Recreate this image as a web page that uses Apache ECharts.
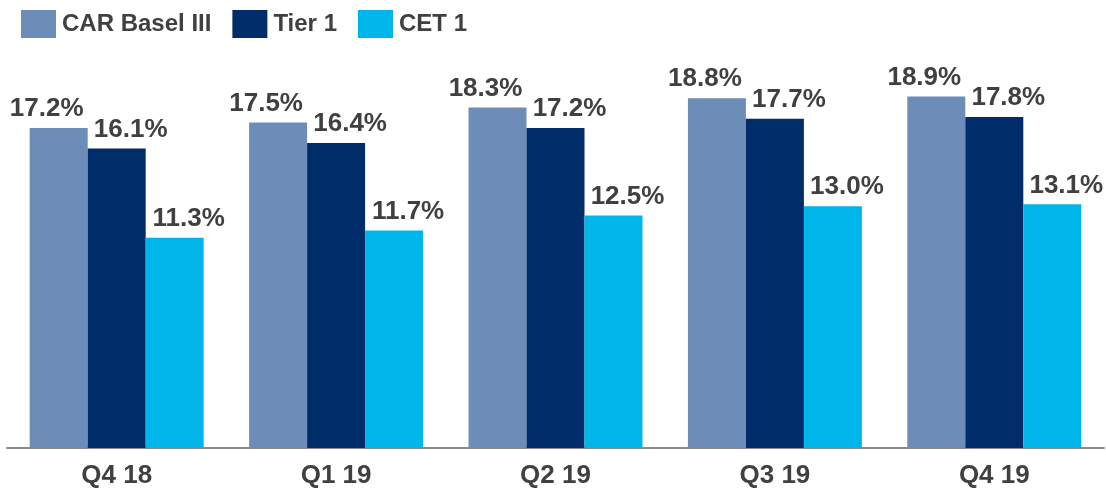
<!DOCTYPE html>
<html>
<head>
<meta charset="utf-8">
<script src="https://cdn.jsdelivr.net/npm/echarts@6/dist/echarts.min.js"></script>
<style>
  html, body { margin: 0; padding: 0; background: #fff; }
  #chart { width: 1106px; height: 491px; }
</style>
</head>
<body>
<div id="chart"></div>
<script>
const quarters = ['Q4 18', 'Q1 19', 'Q2 19', 'Q3 19', 'Q4 19']
const carBasel = [17.2, 17.5, 18.3, 18.8, 18.9]
const tier1 = [16.1, 16.4, 17.2, 17.7, 17.8]
const cet1 = [11.3, 11.7, 12.5, 13.0, 13.1]

const textColor = '#404040'
const font = 'Liberation Sans, Arial, sans-serif'

function barSeries(name, data, color, dx) {
  return {
    name: name,
    type: 'bar',
    data: data,
    barGap: 0,
    barCategoryGap: '20.7%',
    itemStyle: {color: color},
    label: {
      show: true,
      position: 'top',
      distance: 6,
      offset: [dx, 0],
      color: textColor,
      fontFamily: font,
      fontWeight: 'bold',
      fontSize: 26,
      formatter: p => p.value.toFixed(1) + '%'
    }
  }
}

const myChart = echarts.init(document.getElementById('chart'))
const option = {
  animation: false,
  legend: {
    left: 16,
    top: 5,
    itemWidth: 35,
    itemHeight: 28,
    itemGap: 21,
    icon: 'rect',
    textStyle: {
      color: textColor,
      fontFamily: font,
      fontWeight: 'bold',
      fontSize: 24,
      padding: [0, 0, 0, 1]
    }
  },
  grid: {
    left: 7,
    right: 2,
    top: 76,
    bottom: 43,
    containLabel: false
  },
  xAxis: {
    type: 'category',
    data: quarters,
    axisTick: {show: false},
    axisLine: {lineStyle: {color: '#8c8c8c', width: 2}},
    axisLabel: {
      color: textColor,
      fontFamily: font,
      fontWeight: 'bold',
      fontSize: 26,
      margin: 15
    }
  },
  yAxis: {
    type: 'value',
    min: 0,
    max: 20,
    show: false,
    splitLine: {show: false}
  },
  series: [
    barSeries('CAR Basel III', carBasel, '#6d8db9', -12),
    barSeries('Tier 1', tier1, '#002d69', 14),
    barSeries('CET 1', cet1, '#00b5e9', 14)
  ]
}
myChart.setOption(option)
</script>
</body>
</html>
